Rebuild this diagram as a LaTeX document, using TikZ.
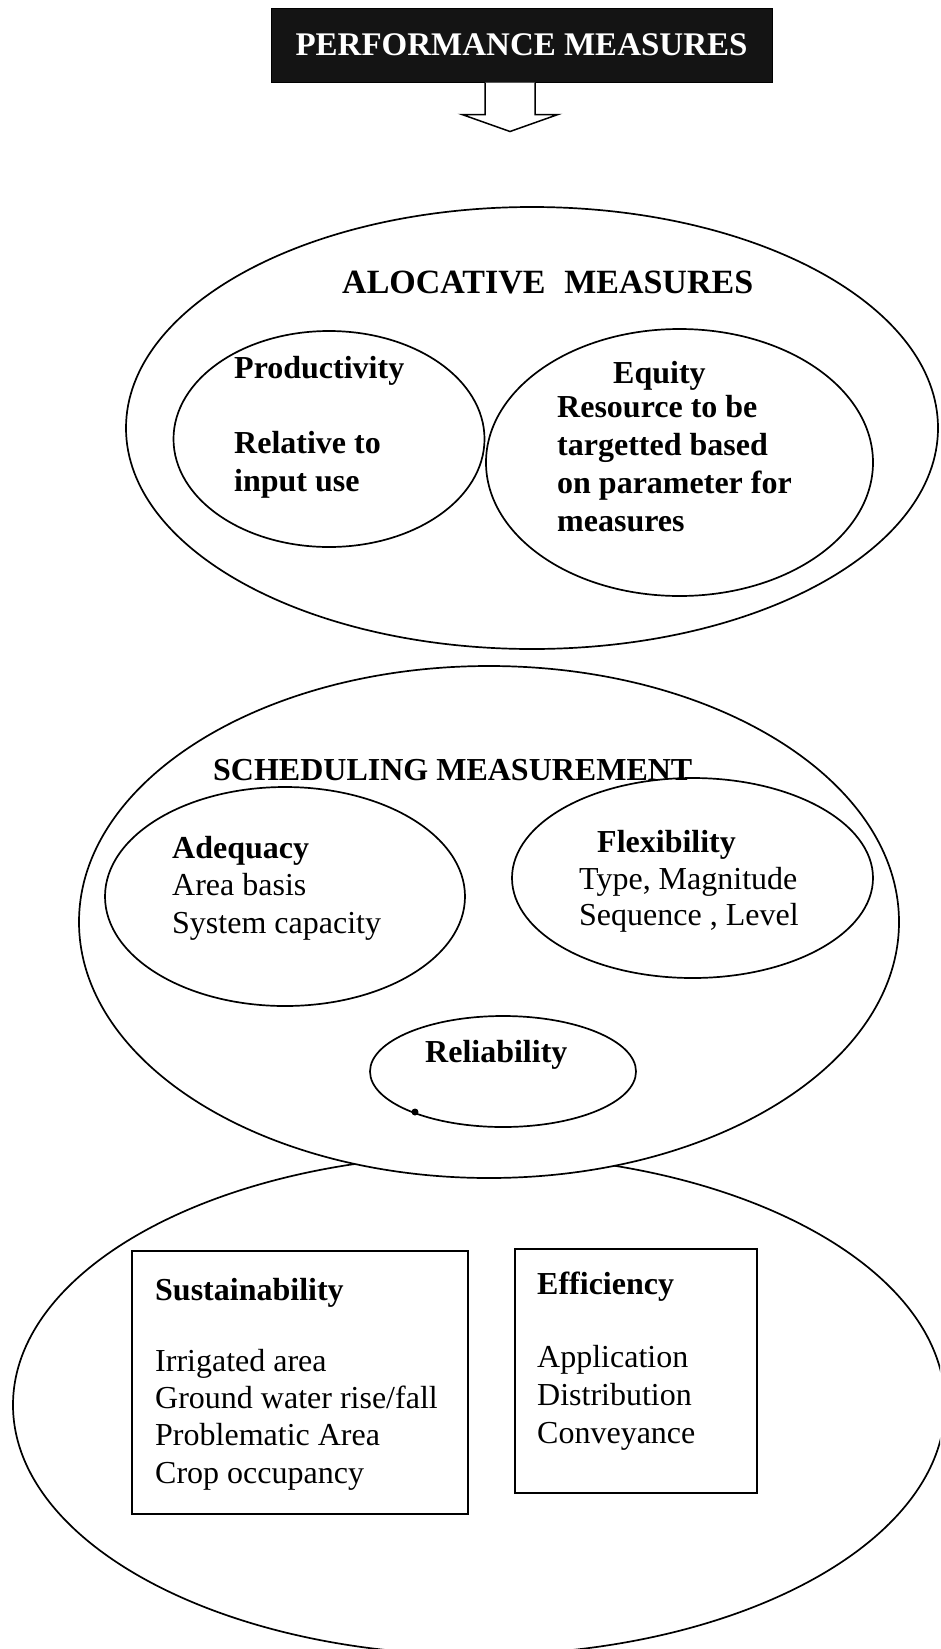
\documentclass[tikz,border=0pt]{standalone}
\usepackage{fontspec}
\setmainfont{Liberation Serif}
\usetikzlibrary{shapes.geometric}
\begin{document}
\begin{tikzpicture}[x=1pt,y=-1pt,
  oval/.style={draw, ellipse, line width=1.7pt, inner sep=0pt, fill=white},
  panel/.style={draw, line width=2.2pt, inner sep=0pt},
  hd/.style={anchor=base west, inner sep=0pt, font=\fontsize{32}{38}\selectfont\bfseries},
  bt/.style={anchor=base west, inner sep=0pt, font=\fontsize{32}{37}\selectfont\bfseries},
  rt/.style={anchor=base west, inner sep=0pt, font=\fontsize{32}{37}\selectfont},
]
\useasboundingbox (0,0) rectangle (940,1649);
\clip (0,0) rectangle (940,1649);
\fill[white] (0,0) rectangle (940,1649);

% title banner and block arrow
\node[fill=black!92, draw=black, line width=1pt, minimum width=501pt, minimum height=74pt, inner sep=0pt,
      text=white, font=\fontsize{33}{33}\selectfont\bfseries] (title) at (521.5,45) {PERFORMANCE MEASURES};
\draw[line width=1.5pt, fill=white] (title.south) ++(-36.5,0) -- ++(0,32) -- ++(-23,0)
  -- ++(48,17) -- ++(48,-17) -- ++(-23,0) -- ++(0,-32);

% allocative group
\node[oval, minimum width=812pt, minimum height=442pt] (alloc) at (532,428) {};
\node[oval, minimum width=311pt, minimum height=216pt] (prod) at (329,439) {};
\node[oval, minimum width=387pt, minimum height=267pt] (equity) at (679.5,462.5) {};
\node[hd, font=\fontsize{34}{38}\selectfont\bfseries] (allocT) at (342,293) {ALOCATIVE\hspace{0.55em}MEASURES};
\node[bt] (prodT) at (234,378) {Productivity};
\node[bt] (prodA) at (234,453) {Relative to};
\node[bt] (prodB) at (234,491) {input use};
\node[bt] (eqT) at (613,383) {Equity};
\node[bt] (eqA) at (557,417) {Resource to be};
\node[bt] (eqB) at (557,455) {targetted based};
\node[bt] (eqC) at (557,493) {on parameter for};
\node[bt] (eqD) at (557,531) {measures};

% outer oval of the last group sits behind the scheduling oval
\node[oval, minimum width=932pt, minimum height=500pt] (other) at (479,1405) {};

% scheduling group
\node[oval, minimum width=820pt, minimum height=512pt] (sched) at (489,922) {};
\node[oval, minimum width=360pt, minimum height=219pt] (adeq) at (285,896.5) {};
\node[oval, minimum width=361pt, minimum height=200pt] (flex) at (692.5,878) {};
\node[oval, minimum width=266pt, minimum height=111pt] (rel) at (503,1071.5) {};
\fill (415,1112) circle (3.5pt);
\node[hd] (schedT) at (213,780) {SCHEDULING MEASUREMENT};
\node[bt] (adeqT) at (172,858) {Adequacy};
\node[rt] (adeqA) at (172,895) {Area basis};
\node[rt] (adeqB) at (172,933) {System capacity};
\node[bt] (flexT) at (597,852) {Flexibility};
\node[rt] (flexA) at (579,889) {Type, Magnitude};
\node[rt] (flexB) at (579,925) {Sequence , Level};
\node[bt] (relT) at (425,1062) {Reliability};

% sustainability and efficiency panels
\node[panel, minimum width=336pt, minimum height=263pt] (sbox) at (300,1382.5) {};
\node[panel, minimum width=242pt, minimum height=244pt] (ebox) at (636,1371) {};
\node[bt] (sT) at (155,1300) {Sustainability};
\node[rt] (sA) at (155,1371) {Irrigated area};
\node[rt] (sB) at (155,1408) {Ground water rise/fall};
\node[rt] (sC) at (155,1445) {Problematic Area};
\node[rt] (sD) at (155,1483) {Crop occupancy};
\node[bt] (eT) at (537,1294) {Efficiency};
\node[rt] (eA) at (537,1367) {Application};
\node[rt] (eB) at (537,1405) {Distribution};
\node[rt] (eC) at (537,1443) {Conveyance};
\end{tikzpicture}
\end{document}
